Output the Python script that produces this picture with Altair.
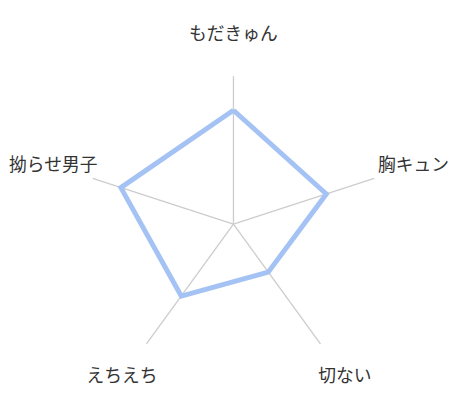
import math
import altair as alt
import pandas as pd

categories = ["もだきゅん", "胸キュン", "切ない", "えちえち", "拗らせ男子"]
values = [77, 66, 40, 60, 80]
max_value = 100
label_radius = 128

n = len(categories)
rows_axis = []
rows_line = []
rows_label = []
for i, (c, v) in enumerate(zip(categories, values)):
    rows_axis.append({"cat": c, "idx": i, "r": 0, "part": 0})
    rows_axis.append({"cat": c, "idx": i, "r": max_value, "part": 1})
    rows_line.append({"cat": c, "idx": i, "r": v, "order": i})
    rows_label.append({"cat": c, "idx": i, "r": label_radius})
rows_line.append({"cat": categories[0], "idx": 0, "r": values[0], "order": n})

def polar(chart):
    return chart.transform_calculate(
        ang="datum.idx * 2 * PI / %d" % n
    ).transform_calculate(
        px="datum.r * sin(datum.ang)",
        py="datum.r * cos(datum.ang)",
    )

W, H = 440, 390
k = 1.5
cx, cy = 222.5, 216.5
xs = alt.Scale(domain=[-cx / k, (W - cx) / k], nice=False, zero=False)
ys = alt.Scale(domain=[-(H - cy) / k, cy / k], nice=False, zero=False)

axes = polar(alt.Chart(pd.DataFrame(rows_axis))).mark_line(
    color="#cccccc", strokeWidth=1.3
).encode(
    x=alt.X("px:Q", scale=xs, axis=None),
    y=alt.Y("py:Q", scale=ys, axis=None),
    detail="cat:N",
    order="part:Q",
)

line = polar(alt.Chart(pd.DataFrame(rows_line))).mark_line(
    color="#a4c2f4", strokeWidth=5, strokeJoin="miter"
).encode(
    x=alt.X("px:Q", scale=xs, axis=None),
    y=alt.Y("py:Q", scale=ys, axis=None),
    order="order:Q",
)

labels = polar(alt.Chart(pd.DataFrame(rows_label))).mark_text(
    font="Noto Sans CJK JP", fontSize=18, color="#333333",
    align="center", baseline="middle"
).encode(
    x=alt.X("px:Q", scale=xs, axis=None),
    y=alt.Y("py:Q", scale=ys, axis=None),
    text="cat:N",
)

chart = alt.layer(axes, line, labels).properties(
    width=W, height=H, padding=0
).configure_view(stroke=None)

chart.save("out.html", embed_options={"renderer": "svg", "actions": False})
